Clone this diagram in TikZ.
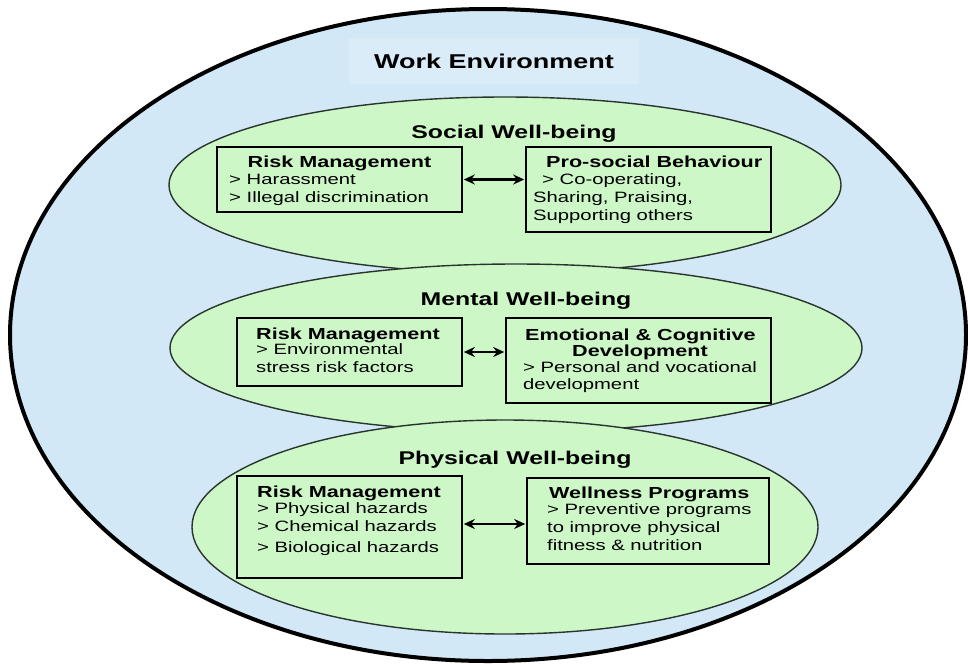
\documentclass[tikz,border=0pt]{standalone}
\usepackage{fontspec}
\setmainfont{Liberation Sans}[FakeStretch=1.35]
\usetikzlibrary{arrows.meta,shapes.geometric}
\definecolor{envblue}{RGB}{210,232,246}
\definecolor{labelblue}{RGB}{218,236,248}
\definecolor{wbgreen}{RGB}{206,247,200}
\definecolor{wbline}{RGB}{40,52,44}
\tikzset{
  envshape/.style={ellipse, draw=black, line width=4pt, fill=envblue, inner sep=0pt},
  wb/.style={ellipse, draw=wbline, line width=1.4pt, fill=wbgreen, inner sep=0pt},
  box/.style={draw=black, line width=1.6pt, fill=wbgreen, inner sep=0pt},
  ttl/.style={font=\fontsize{18.4}{22}\selectfont\bfseries, anchor=base, inner sep=0pt},
  hd/.style={font=\fontsize{16}{19}\selectfont\bfseries, anchor=base west, inner sep=0pt},
  hdc/.style={font=\fontsize{16}{19}\selectfont\bfseries, anchor=base, inner sep=0pt},
  bd/.style={font=\fontsize{15}{18}\selectfont, anchor=base west, inner sep=0pt},
  link/.style={line width=2.4pt, shorten >=1pt, shorten <=1pt,
    {Stealth[length=11pt,width=10pt]}-{Stealth[length=11pt,width=10pt]}},
}
\begin{document}
\begin{tikzpicture}[x=1pt,y=-1pt]
\useasboundingbox (0,0) rectangle (968,664);
% outer environment
\node[envshape, minimum width=956pt, minimum height=652pt] (env) at (488,335) {};
\node[fill=labelblue, minimum width=290pt, minimum height=46pt, text height=14pt, text depth=0pt,
  font=\fontsize{20}{24}\selectfont\bfseries] (envlabel) at (494,61) {Work Environment};
% well-being ellipses
\node[wb, minimum width=672pt, minimum height=176pt] (social) at (505,185) {};
\node[wb, minimum width=692pt, minimum height=168pt] (mental) at (516,348) {};
\node[wb, minimum width=626pt, minimum height=214pt] (physical) at (505,527) {};
% titles
\node[ttl] (socialt) at (514,138) {Social Well-being};
\node[ttl] (mentalt) at (526,305) {Mental Well-being};
\node[ttl] (physicalt) at (515,464) {Physical Well-being};
% social boxes
\node[box, minimum width=245pt, minimum height=65pt] (sl) at (339.5,179.5) {};
\node[box, minimum width=245pt, minimum height=85pt] (sr) at (648.5,189.5) {};
\node[hdc] (slh) at (339.5,167) {Risk Management};
\node[bd] (sl1) at (229,184) {> Harassment};
\node[bd] (sl2) at (229,202) {> Illegal discrimination};
\node[hd] (srh) at (546,167) {Pro-social Behaviour};
\node[bd] (sr1) at (542,184) {> Co-operating,};
\node[bd] (sr2) at (533,202) {Sharing, Praising,};
\node[bd] (sr3) at (533,220) {Supporting others};
% mental boxes
\node[box, minimum width=225pt, minimum height=68pt] (ml) at (349.5,352) {};
\node[box, minimum width=265pt, minimum height=85pt] (mr) at (638.5,360.5) {};
\node[hd] (mlh) at (256,339) {Risk Management};
\node[bd] (ml1) at (256,354) {> Environmental};
\node[bd] (ml2) at (256,372) {stress risk factors};
\node[hd] (mrh) at (525,340) {Emotional \& Cognitive};
\node[hdc] (mrh2) at (640,356) {Development};
\node[bd] (mr1) at (523,372) {> Personal and vocational};
\node[bd] (mr2) at (523,389) {development};
% physical boxes
\node[box, minimum width=225pt, minimum height=102pt] (pl) at (349.5,527) {};
\node[box, minimum width=242pt, minimum height=86pt] (pr) at (648,521) {};
\node[hd] (plh) at (257,497) {Risk Management};
\node[bd] (pl1) at (257,513) {> Physical hazards};
\node[bd] (pl2) at (257,531) {> Chemical hazards};
\node[bd] (pl3) at (257,552) {> Biological hazards};
\node[hd] (prh) at (549,498) {Wellness Programs};
\node[bd] (pr1) at (547,514) {> Preventive programs};
\node[bd] (pr2) at (547,532) {to improve physical};
\node[bd] (pr3) at (547,550) {fitness \& nutrition};
% connectors
\draw[link] (sl.east) -- (sl.east -| sr.west);
\draw[link] (ml.east) -- (ml.east -| mr.west);
\draw[link] ([yshift=3pt]pl.east) -- ([yshift=3pt]pl.east -| pr.west);
\end{tikzpicture}
\end{document}
